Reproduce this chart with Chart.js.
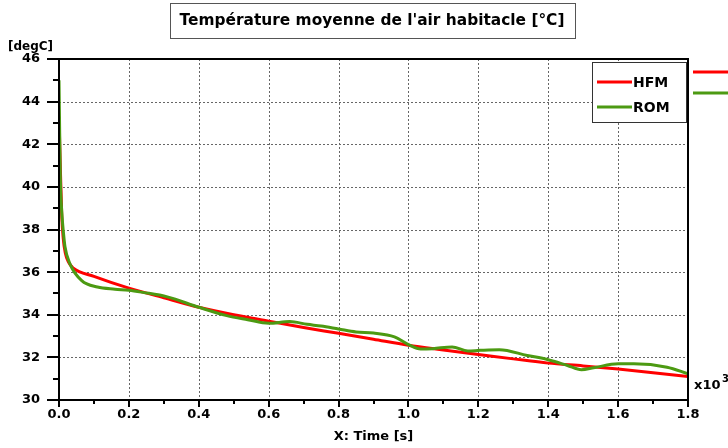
<!DOCTYPE html>
<html>
<head>
<meta charset="utf-8">
<script src="https://cdn.jsdelivr.net/npm/chart.js@4/dist/chart.umd.min.js"></script>
<style>
  body { margin: 0; background: #fff; }
  #wrap { width: 728px; height: 448px; }
</style>
</head>
<body>
<div id="wrap"><canvas id="c" width="728" height="448"></canvas></div>
<script>
const chartTitle = "Température moyenne de l'air habitacle [°C]";
const yUnit = '[degC]';
const xTitle = 'X: Time [s]';
const xScaleNote = 'x10';
const xScaleExp = '3';

// HFM (reference model)
const hfmTime = [0, 0.004, 0.008, 0.012, 0.018, 0.028, 0.04, 0.1, 0.2, 0.3, 0.4, 0.5, 0.6, 0.7, 0.8, 0.9, 1.0, 1.1, 1.2, 1.3, 1.4, 1.5, 1.6, 1.7, 1.8];
const hfmTemp = [43.3, 40.8, 38.6, 37.6, 36.9, 36.45, 36.2, 35.8, 35.25, 34.8, 34.35, 34.0, 33.7, 33.4, 33.13, 32.85, 32.57, 32.35, 32.14, 31.93, 31.73, 31.6, 31.45, 31.28, 31.1];

// ROM (reduced model)
const romTime = [0, 0.002, 0.004, 0.008, 0.013, 0.017, 0.031, 0.065, 0.11, 0.16, 0.2, 0.24, 0.31, 0.4, 0.48, 0.54, 0.6, 0.66, 0.71, 0.75, 0.8, 0.85, 0.9, 0.96, 1.0, 1.035, 1.07, 1.125, 1.17, 1.205, 1.26, 1.34, 1.4, 1.455, 1.495, 1.53, 1.6, 1.645, 1.74, 1.8];
const romTemp = [45.0, 42.5, 40.3, 38.8, 37.8, 37.2, 36.4, 35.6, 35.3, 35.2, 35.15, 35.05, 34.84, 34.35, 33.96, 33.77, 33.6, 33.68, 33.55, 33.47, 33.33, 33.19, 33.14, 32.96, 32.6, 32.39, 32.41, 32.49, 32.3, 32.33, 32.36, 32.09, 31.89, 31.62, 31.42, 31.51, 31.7, 31.7, 31.54, 31.23];

const seriesNames = ['HFM', 'ROM'];
const seriesColors = ['#ff0000', '#4c9a12'];

const FONT = 'DejaVu Sans';

const toPoints = (xs, ys) => xs.map((x, i) => ({ x: x, y: ys[i] }));

// frame, dotted grid, tick marks, legend, title box, extra labels
const decorations = {
  id: 'decorations',
  beforeDatasetsDraw(chart) {
    const { ctx, chartArea: a, scales: { x, y } } = chart;
    ctx.save();
    ctx.lineWidth = 1;
    ctx.strokeStyle = '#666';
    ctx.setLineDash([2, 2]);
    for (let v = 32; v <= 44; v += 2) {
      const py = Math.round(y.getPixelForValue(v)) + 0.5;
      ctx.beginPath(); ctx.moveTo(a.left, py); ctx.lineTo(a.right, py); ctx.stroke();
    }
    for (let v = 0.2; v < 1.75; v += 0.2) {
      const px = Math.round(x.getPixelForValue(v)) + 0.5;
      ctx.beginPath(); ctx.moveTo(px, a.top); ctx.lineTo(px, a.bottom); ctx.stroke();
    }
    ctx.restore();
  },
  afterDraw(chart) {
    const { ctx, chartArea: a, scales: { x, y } } = chart;
    ctx.save();
    ctx.strokeStyle = '#000';

    // tick marks
    ctx.lineWidth = 2;
    for (let v = 30; v <= 46; v += 1) {
      const py = Math.round(y.getPixelForValue(v));
      const len = v % 2 === 0 ? 12 : 6;
      ctx.beginPath(); ctx.moveTo(a.left - len, py); ctx.lineTo(a.left, py); ctx.stroke();
    }
    for (let i = 0; i <= 18; i++) {
      const px = Math.round(x.getPixelForValue(i / 10));
      const len = i % 2 === 0 ? 7 : 4;
      ctx.beginPath(); ctx.moveTo(px, a.bottom); ctx.lineTo(px, a.bottom + len); ctx.stroke();
    }

    // frame
    ctx.lineWidth = 2;
    ctx.strokeRect(a.left, a.top, a.right - a.left, a.bottom - a.top);

    // legend box inside the plot
    const lx = 592, ly = 62, lw = 94, lh = 60;
    ctx.fillStyle = '#fff';
    ctx.fillRect(lx, ly, lw, lh);
    ctx.lineWidth = 1;
    ctx.strokeStyle = '#333';
    ctx.strokeRect(lx + 0.5, ly + 0.5, lw, lh);
    ctx.font = `bold 14px "${FONT}"`;
    ctx.textBaseline = 'middle';
    ctx.textAlign = 'left';
    const rows = [82, 107];
    chart.data.datasets.forEach((ds, i) => {
      ctx.strokeStyle = ds.borderColor;
      ctx.lineWidth = 3;
      ctx.beginPath(); ctx.moveTo(597, rows[i]); ctx.lineTo(632, rows[i]); ctx.stroke();
      ctx.fillStyle = '#000';
      ctx.fillText(ds.label, 633, rows[i] + 1);
    });
    // clipped legend marks outside the plot
    const outRows = [72, 93];
    chart.data.datasets.forEach((ds, i) => {
      ctx.strokeStyle = ds.borderColor;
      ctx.lineWidth = 3;
      ctx.beginPath(); ctx.moveTo(693, outRows[i]); ctx.lineTo(728, outRows[i]); ctx.stroke();
    });

    // title box
    ctx.font = `bold 15.4px "${FONT}"`;
    ctx.textAlign = 'center';
    ctx.textBaseline = 'middle';
    const tw = ctx.measureText(chartTitle).width;
    const cx = 372;
    ctx.strokeStyle = '#555';
    ctx.lineWidth = 1;
    ctx.strokeRect(Math.round(cx - tw / 2 - 10) + 0.5, 3.5, Math.round(tw + 20), 35);
    ctx.fillStyle = '#000';
    ctx.fillText(chartTitle, cx, 21);

    // unit label
    ctx.font = `bold 12px "${FONT}"`;
    ctx.textAlign = 'left';
    ctx.fillText(yUnit, 8, 47);

    // x axis title
    ctx.font = `bold 13px "${FONT}"`;
    ctx.textAlign = 'center';
    ctx.fillText(xTitle, (a.left + a.right) / 2, 437);

    // x multiplier
    ctx.textAlign = 'left';
    ctx.fillText(xScaleNote, 694, 386);
    ctx.font = `bold 10px "${FONT}"`;
    ctx.fillText(xScaleExp, 722, 379);
    ctx.restore();
  }
};

const ctx = document.getElementById('c');
new Chart(ctx, {
  type: 'line',
  data: {
    datasets: [
      {
        label: seriesNames[0],
        data: toPoints(hfmTime, hfmTemp),
        borderColor: seriesColors[0],
        borderWidth: 3,
        pointRadius: 0,
        cubicInterpolationMode: 'monotone',
        order: 1,
      },
      {
        label: seriesNames[1],
        data: toPoints(romTime, romTemp),
        borderColor: seriesColors[1],
        borderWidth: 3,
        pointRadius: 0,
        cubicInterpolationMode: 'monotone',
        order: 0,
      },
    ],
  },
  options: {
    responsive: false,
    animation: false,
    devicePixelRatio: 1,
    layout: { padding: { top: 59, right: 40, left: 0, bottom: 0 } },
    plugins: { legend: { display: false }, tooltip: { enabled: false } },
    scales: {
      x: {
        type: 'linear',
        min: 0, max: 1.8,
        grid: { display: false },
        border: { display: false },
        ticks: {
          stepSize: 0.2,
          padding: -1,
          color: '#000',
          font: { family: FONT, size: 13, weight: 'bold' },
          maxRotation: 0,
          callback: v => v.toFixed(1),
        },
        afterFit: s => { s.height = 48; },
      },
      y: {
        min: 30, max: 46,
        grid: { display: false },
        border: { display: false },
        ticks: {
          stepSize: 2,
          padding: 11,
          color: '#000',
          font: { family: FONT, size: 13, weight: 'bold' },
        },
        afterFit: s => { s.width = 59; },
      },
    },
  },
  plugins: [decorations],
});
</script>
</body>
</html>
